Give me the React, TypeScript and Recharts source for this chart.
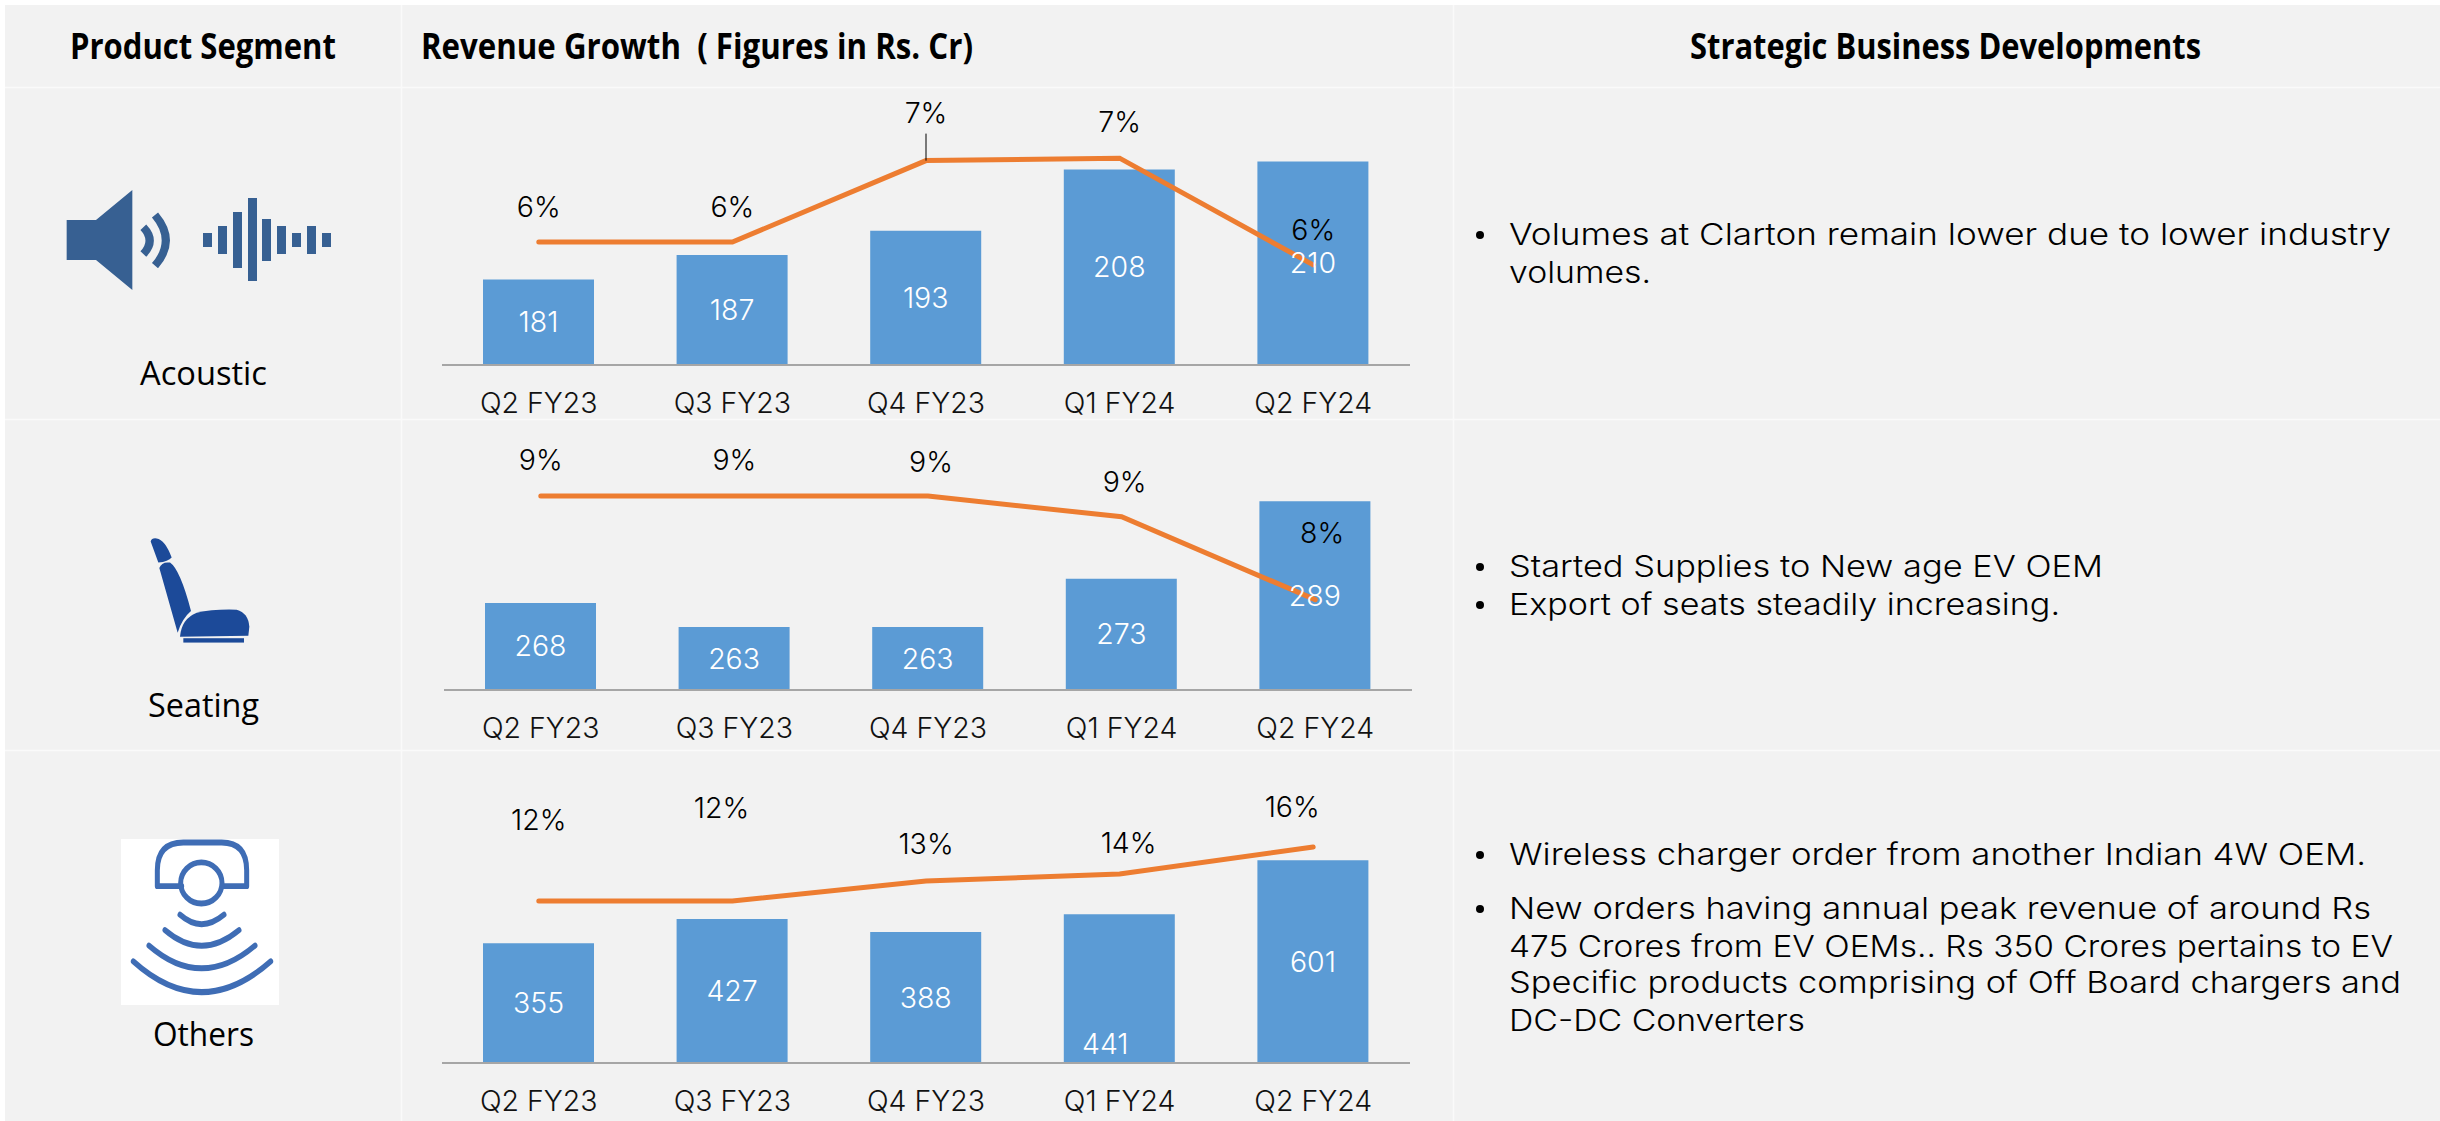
import { Bar, ComposedChart, LabelList, Line, XAxis, YAxis } from 'recharts';

const quarters = ['Q2 FY23', 'Q3 FY23', 'Q4 FY23', 'Q1 FY24', 'Q2 FY24'];

const acousticRevenue = [181, 187, 193, 208, 210];
const acousticMargin = [6.31, 6.31, 7.31, 7.34, 6.03];

const seatingRevenue = [268, 263, 263, 273, 289];
const seatingMargin = [9.0, 9.0, 9.0, 8.75, 7.75];

const othersRevenue = [355, 427, 388, 441, 601];
const othersMargin = [12, 12, 13.48, 14, 16];

const CHART_FONT = 'Inter, "Open Sans", sans-serif';
const HEAD_FONT = '"Open Sans", "Noto Sans", sans-serif';
const LABEL_SIZE = 28.5;

const toRows = (revenue: number[], margin: number[]) =>
  quarters.map((name, i) => ({ name, revenue: revenue[i], margin: margin[i] }));

// the data labels were dragged around by hand in the original deck
const panels = [
  {
    rows: toRows(acousticRevenue, acousticMargin),
    left: 442,
    top: 80,
    plotHeight: 285,
    revenueDomain: [160, 230],
    marginDomain: [4.8, 8.3],
    marginNudge: [[0, -35], [0, -35], [0, -48], [0, -36], [0, -35]],
    revenueNudge: [[0, 0], [0, 0], [0, 0], [0, 0], [0, 0]],
    leaderAt: 2,
  },
  {
    rows: toRows(seatingRevenue, seatingMargin),
    left: 444,
    top: 448,
    plotHeight: 242,
    revenueDomain: [250, 300],
    marginDomain: [6.66, 9.58],
    marginNudge: [[0, -36], [0, -36], [3, -34], [3, -35], [7, -67]],
    revenueNudge: [[0, 0], [0, 0], [0, 0], [0, 0], [0, 0]],
    leaderAt: -1,
  },
  {
    rows: toRows(othersRevenue, othersMargin),
    left: 442,
    top: 793,
    plotHeight: 270,
    revenueDomain: [0, 800],
    marginDomain: [0, 20],
    marginNudge: [[0, -81], [-11, -93], [0, -37], [9, -31], [-21, -40]],
    revenueNudge: [[0, 0], [0, 0], [0, 0], [-14, 55], [0, 0]],
    leaderAt: -1,
  },
];

const headers = [
  { text: 'Product Segment', x: 70, width: 266 },
  { text: 'Revenue Growth  ( Figures in Rs. Cr)', x: 421, width: 552 },
  { text: 'Strategic Business Developments', x: 1690, width: 511 },
];

const segments = [
  { text: 'Acoustic', x: 140, y: 385, width: 127 },
  { text: 'Seating', x: 148, y: 717, width: 111 },
  { text: 'Others', x: 153, y: 1046, width: 101 },
];

const notes = [
  { text: 'Volumes at Clarton remain lower due to lower industry', y: 245, width: 882, bullet: true },
  { text: 'volumes.', y: 283, width: 142, bullet: false },
  { text: 'Started Supplies to New age EV OEM', y: 577, width: 594, bullet: true },
  { text: 'Export of seats steadily increasing.', y: 615, width: 551, bullet: true },
  { text: 'Wireless charger order from another Indian 4W OEM.', y: 865, width: 857, bullet: true },
  { text: 'New orders having annual peak revenue of around Rs', y: 919, width: 862, bullet: true },
  { text: '475 Crores from EV OEMs.. Rs 350 Crores pertains to EV', y: 957, width: 884, bullet: false },
  { text: 'Specific products comprising of Off Board chargers and', y: 993, width: 892, bullet: false },
  { text: 'DC-DC Converters', y: 1031, width: 296, bullet: false },
];

function QuarterTick({ x, y, payload }: any) {
  return (
    <text x={x} y={y} dy={32} textAnchor="middle" fontFamily={CHART_FONT} fontWeight={300} fontSize={LABEL_SIZE} fill="#111">
      {payload.value}
    </text>
  );
}

function Panel({ panel }: { panel: (typeof panels)[number] }) {
  const axisRoom = 58;
  const headRoom = 30; // keeps the top % labels inside the svg
  return (
    <div style={{ position: 'absolute', left: panel.left, top: panel.top - headRoom }}>
      <ComposedChart
        width={968}
        height={headRoom + panel.plotHeight + axisRoom}
        data={panel.rows}
        margin={{ top: headRoom, right: 0, bottom: 0, left: 0 }}
      >
        <XAxis
          dataKey="name"
          height={axisRoom}
          axisLine={{ stroke: '#A6A6A6', strokeWidth: 2 }}
          tickLine={false}
          tickMargin={10}
          interval={0}
          tick={<QuarterTick />}
        />
        <YAxis yAxisId="rev" hide domain={panel.revenueDomain} />
        <YAxis yAxisId="pct" hide orientation="right" domain={panel.marginDomain} />
        <Bar yAxisId="rev" dataKey="revenue" fill="#5B9BD5" barSize={111} isAnimationActive={false}>
          <LabelList
            dataKey="revenue"
            content={({ x, y, width, height, value, index }: any) => {
              const [dx, dy] = panel.revenueNudge[index];
              return (
                <text
                  x={x + width / 2 + dx}
                  y={y + height / 2 + dy + 10}
                  textAnchor="middle"
                  fontFamily={CHART_FONT}
                  fontWeight={300}
                  fontSize={LABEL_SIZE}
                  fill="#fff"
                >
                  {value}
                </text>
              );
            }}
          />
        </Bar>
        <Line
          yAxisId="pct"
          dataKey="margin"
          stroke="#ED7D31"
          strokeWidth={5}
          strokeLinecap="round"
          dot={false}
          isAnimationActive={false}
        >
          <LabelList
            dataKey="margin"
            content={({ x, y, value, index }: any) => {
              const [dx, dy] = panel.marginNudge[index];
              return (
                <g>
                  {index === panel.leaderAt && <line x1={x} x2={x} y1={y - 27} y2={y} stroke="#000" strokeWidth={1} />}
                  <text
                    x={x + dx}
                    y={y + dy + 10}
                    textAnchor="middle"
                    fontFamily={CHART_FONT}
                    fontWeight={300}
                    fontSize={LABEL_SIZE}
                    fill="#000"
                  >
                    {Math.round(value)}%
                  </text>
                </g>
              );
            }}
          />
        </Line>
      </ComposedChart>
    </div>
  );
}

function Backdrop() {
  return (
    <svg width={2440} height={1121} style={{ position: 'absolute', left: 0, top: 0 }}>
      <rect x={5} y={5} width={2435} height={1116} fill="#F2F2F2" />
      <line x1={5} x2={2440} y1={87.5} y2={87.5} stroke="#FAFAFA" strokeWidth={1.5} />
      <line x1={5} x2={2440} y1={419.5} y2={419.5} stroke="#FAFAFA" strokeWidth={1.5} />
      <line x1={5} x2={2440} y1={750.5} y2={750.5} stroke="#FAFAFA" strokeWidth={1.5} />
      <line x1={401.5} x2={401.5} y1={5} y2={1121} stroke="#FAFAFA" strokeWidth={1.5} />
      <line x1={1453.5} x2={1453.5} y1={5} y2={1121} stroke="#FAFAFA" strokeWidth={1.5} />
    </svg>
  );
}

function Icons() {
  const blue = '#376092';
  const waveBars = [
    [609, 699, 42], [654, 678, 84], [699, 636, 168], [744, 594, 249], [786, 657, 126],
    [831, 678, 84], [876, 699, 42], [921, 678, 84], [966, 699, 42],
  ];
  return (
    <>
      <svg viewBox="0 0 1260 1290" width={420} height={430} style={{ position: 'absolute', left: 0, top: 0 }}>
        <path d="M200,660 L288,660 L397,570 L397,870 L288,780 L200,780 Z" fill={blue} />
        <path d="M430,682 Q468,722 430,762" fill="none" stroke={blue} strokeWidth={24} />
        <path d="M465,645 Q530,722 465,797" fill="none" stroke={blue} strokeWidth={24} />
        {waveBars.map(([x, y, h]) => (
          <rect key={x} x={x} y={y} width={27} height={h} fill={blue} />
        ))}
      </svg>
      <svg
        viewBox="0 0 1260 1568"
        width={420}
        height={621}
        preserveAspectRatio="none"
        style={{ position: 'absolute', left: 0, top: 500 }}
      >
        <g fill="#1C4A99">
          <path d="M452,105 Q455,95 470,97 Q495,100 515,145 Q505,155 475,158 Z" />
          <path d="M478,172 Q485,155 510,158 Q540,175 573,280 Q545,300 533,335 Z" />
          <path d="M540,345 Q545,300 590,285 Q640,275 710,277 Q745,285 748,320 L745,343 Z" />
          <rect x={550} y={349} width={182} height={11} />
        </g>
        <rect x={363} y={856} width={474} height={419} fill="#fff" />
        <g fill="none" stroke="#3F6DB5" strokeWidth={15} strokeLinecap="round" strokeLinejoin="round">
          <path d="M545,975 L472,975 L472,935 Q472,865 550,865 L665,865 Q740,865 740,935 L740,975 L670,975" />
          <ellipse cx={604} cy={967} rx={62} ry={52} />
          <path d="M540,1047 Q604,1095 672,1047" />
          <path d="M495,1086 Q604,1165 717,1086" />
          <path d="M447,1125 Q604,1240 765,1125" />
          <path d="M400,1165 Q604,1320 812,1165" />
        </g>
      </svg>
    </>
  );
}

function SlideText() {
  return (
    <svg width={2440} height={1121} style={{ position: 'absolute', left: 0, top: 0 }}>
      {headers.map((h) => (
        <text
          key={h.text}
          x={h.x}
          y={59}
          fontFamily={HEAD_FONT}
          fontWeight={700}
          fontSize={35}
          fill="#000"
          textLength={h.width}
          lengthAdjust="spacingAndGlyphs"
          xmlSpace="preserve"
        >
          {h.text}
        </text>
      ))}
      {segments.map((s) => (
        <text
          key={s.text}
          x={s.x}
          y={s.y}
          fontFamily={HEAD_FONT}
          fontSize={32}
          fill="#000"
          textLength={s.width}
          lengthAdjust="spacingAndGlyphs"
        >
          {s.text}
        </text>
      ))}
      {notes.map((n) => (
        <g key={n.text}>
          {n.bullet && <circle cx={1480} cy={n.y - 10} r={4} fill="#000" />}
          <text
            x={1509}
            y={n.y}
            fontFamily={CHART_FONT}
            fontWeight={300}
            fontSize={30}
            fill="#000"
            textLength={n.width}
            lengthAdjust="spacingAndGlyphs"
          >
            {n.text}
          </text>
        </g>
      ))}
    </svg>
  );
}

export default function App() {
  return (
    <div style={{ position: 'absolute', left: 0, top: 0, width: 2440, height: 1121, background: '#fff', overflow: 'hidden' }}>
      <Backdrop />
      <Icons />
      <SlideText />
      {panels.map((panel) => (
        <Panel key={panel.top} panel={panel} />
      ))}
    </div>
  );
}
